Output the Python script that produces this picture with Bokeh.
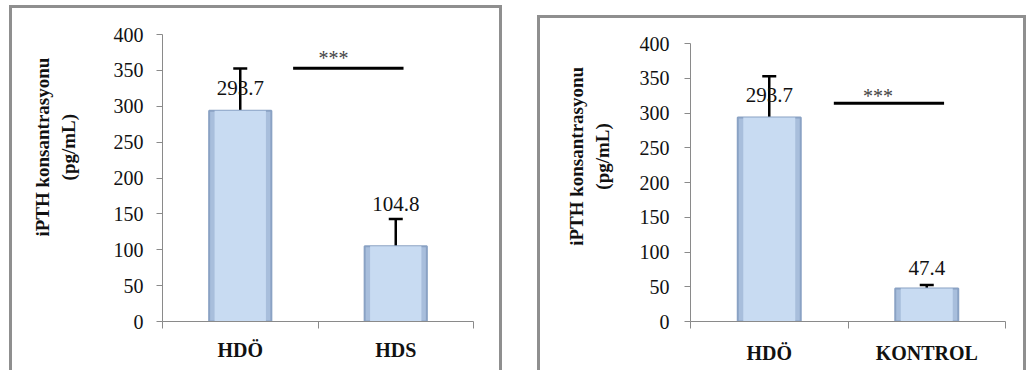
from bokeh.plotting import figure
from bokeh.layouts import row, column
from bokeh.models import ColumnDataSource, Whisker, FixedTicker, Range1d, TeeHead, Spacer
from bokeh.core.properties import value
from bokeh.embed import file_html
from bokeh.resources import INLINE

# ---------------- data ----------------
y_label_lines = ["iPTH konsantrasyonu", "(pg/mL)"]
y_ticks = [0, 50, 100, 150, 200, 250, 300, 350, 400]

left_cats = ["HDÖ", "HDS"]
left_means = [293.7, 104.8]
left_sd = [59, 38]
left_label_gap = [23, 42]          # px above bar top
left_sig_x = [0.84, 1.55]          # significance bar (category units)
left_sig_y = 353
left_star_x = 1.10
left_star_y = 367

right_cats = ["HDÖ", "KONTROL"]
right_means = [293.7, 47.4]
right_sd = [59, 5]
right_label_gap = [22, 21]
right_sig_x = [0.91, 1.61]
right_sig_y = 314
right_star_x = 1.19
right_star_y = 325

SERIF = "Liberation Serif"
BORDER = "#8f8f8f"


def make_panel(cats, means, sd, gaps, sig_x, sig_y, star_x, star_y,
               width, height, mb, tick_standoff, label_standoff, cat_standoff,
               label_shift):
    pos = [i + 0.5 for i in range(len(cats))]
    src = ColumnDataSource(dict(
        x=pos, top=means,
        upper=[m + s for m, s in zip(means, sd)],
        lower=[m - s for m, s in zip(means, sd)],
        lab=[f"{m:.1f}" for m in means],
        yoff=[-g for g in gaps],
    ))
    p = figure(width=width, height=height,
               x_range=Range1d(0, len(cats)), y_range=Range1d(0, 400),
               output_backend="svg", toolbar_location=None,
               min_border_left=mb[0], min_border_right=mb[1],
               min_border_top=mb[2], min_border_bottom=mb[3],
               styles={"box-shadow": f"inset 3px 3px 0 0 {BORDER}, inset -3px 0 0 0 {BORDER}"})
    p.border_fill_color = None
    p.background_fill_color = None
    p.outline_line_color = None
    p.xgrid.grid_line_color = None
    p.ygrid.grid_line_color = None

    # bevelled bar: darker body with lighter centre face
    p.vbar(x="x", top="top", width=0.4, source=src,
           fill_color="#a8bedc", line_color="#8aa2c4", line_width=2)
    p.vbar(x="x", top="top", width=0.33, source=src,
           fill_color="#c8dbf2", line_color=None)

    w = Whisker(base="x", upper="upper", lower="lower", source=src,
                line_color="black", line_width=2.5,
                upper_head=TeeHead(size=14, line_width=2.5, line_color="black"),
                lower_head=TeeHead(size=14, line_width=2.5, line_color="black"))
    p.add_layout(w)

    p.text(x="x", y="top", text="lab", y_offset="yoff", source=src,
           text_align="center", text_baseline="middle",
           text_font=value(SERIF), text_font_size="21px", text_color="#111111")

    p.line(x=sig_x, y=[sig_y, sig_y], line_color="black", line_width=3)
    p.text(x=[star_x], y=[star_y], text=["***"], text_align="center",
           text_baseline="middle", text_font=value(SERIF),
           text_font_size="20px", text_color="#444444")

    # y axis
    ya = p.yaxis[0]
    ya.ticker = FixedTicker(ticks=y_ticks, minor_ticks=[])
    ya.axis_line_color = "#8a8a8a"
    ya.major_tick_line_color = "#8a8a8a"
    ya.major_tick_in = 0
    ya.major_tick_out = 6
    ya.major_label_standoff = tick_standoff
    ya.major_label_text_font = SERIF
    ya.major_label_text_font_size = "20px"
    ya.major_label_text_color = "#111111"
    pad = "\u00a0" * label_shift
    ya.axis_label = "\n".join(pad + s for s in y_label_lines)
    ya.axis_label_text_font = SERIF
    ya.axis_label_text_font_size = "19px"
    ya.axis_label_text_font_style = "bold"
    ya.axis_label_text_color = "#111111"
    ya.axis_label_standoff = label_standoff

    # x axis: ticks at category boundaries, labels at centres
    xa = p.xaxis[0]
    xa.ticker = FixedTicker(ticks=pos, minor_ticks=list(range(len(cats) + 1)))
    xa.major_label_overrides = {pp: c for pp, c in zip(pos, cats)}
    xa.axis_line_color = "#8a8a8a"
    xa.major_tick_line_color = None
    xa.major_tick_in = 0
    xa.major_tick_out = 0
    xa.minor_tick_line_color = "#8a8a8a"
    xa.minor_tick_in = 0
    xa.minor_tick_out = 7
    xa.major_label_standoff = cat_standoff
    xa.major_label_text_font = SERIF
    xa.major_label_text_font_size = "20px"
    xa.major_label_text_font_style = "bold"
    xa.major_label_text_color = "#111111"
    return p


p1 = make_panel(left_cats, left_means, left_sd, left_label_gap,
                left_sig_x, left_sig_y, left_star_x, left_star_y,
                width=493, height=365, mb=(153, 29, 29, 49),
                tick_standoff=13, label_standoff=32, cat_standoff=10,
                label_shift=13)
p2 = make_panel(right_cats, right_means, right_sd, right_label_gap,
                right_sig_x, right_sig_y, right_star_x, right_star_y,
                width=489, height=355, mb=(153, 21, 28, 49),
                tick_standoff=15, label_standoff=24, cat_standoff=13,
                label_shift=11)

layout = column(
    Spacer(width=10, height=5),
    row(Spacer(width=9, height=10), p1, Spacer(width=35, height=10),
        column(Spacer(width=10, height=10), p2)),
)
open("out.html", "w").write(file_html(layout, INLINE))
